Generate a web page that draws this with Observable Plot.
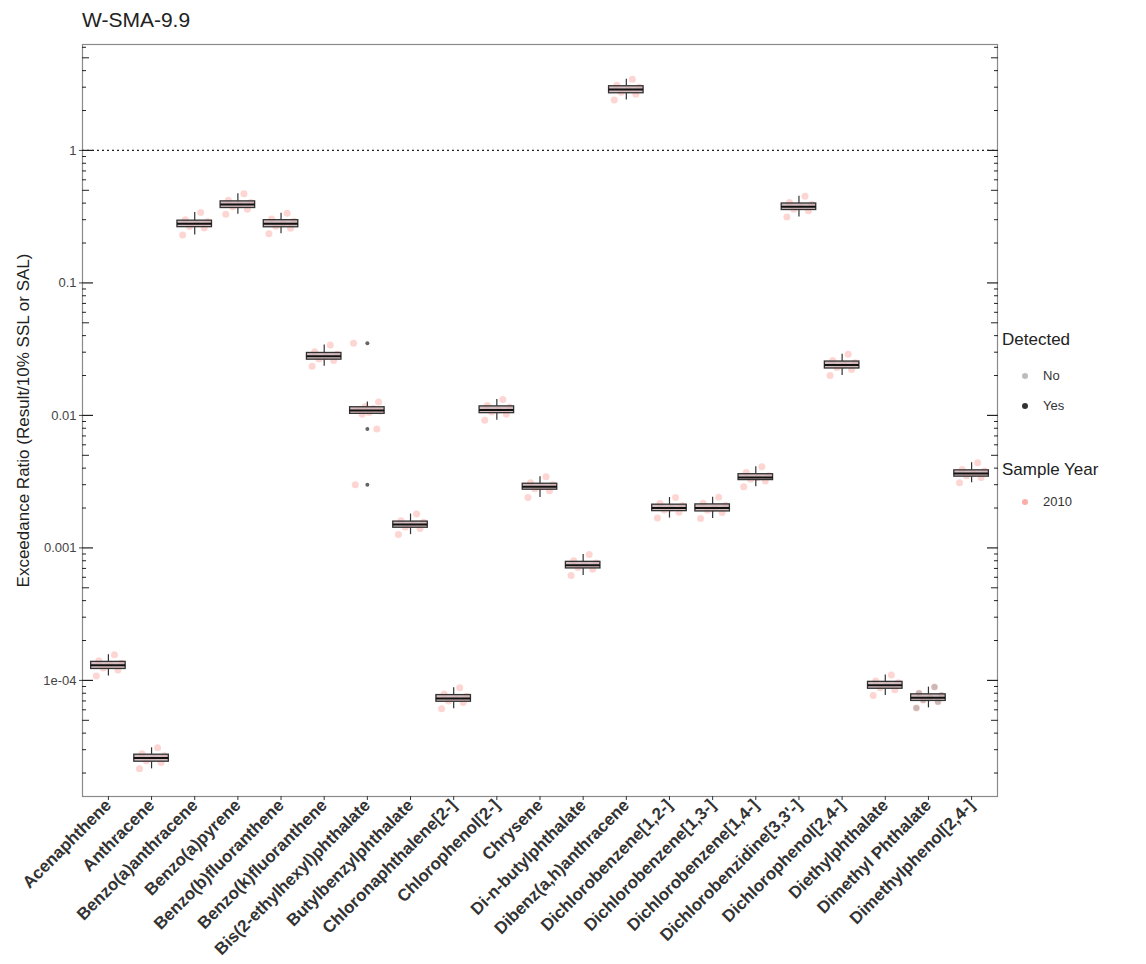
<!DOCTYPE html>
<html><head><meta charset="utf-8">
<script src="https://cdn.jsdelivr.net/npm/d3@7"></script>
<script src="https://cdn.jsdelivr.net/npm/@observablehq/plot@0.6"></script>
<style>
body{margin:0;background:#fff;font-family:"Liberation Sans",Arial,sans-serif;}
#wrap{position:relative;width:1146px;height:964px;overflow:hidden;}
#title{position:absolute;left:82px;top:8px;font-size:21px;color:#222;white-space:nowrap;}
.lt{position:absolute;font-size:17px;color:#222;white-space:nowrap;}
.li{position:absolute;font-size:13px;color:#333;white-space:nowrap;}
.ld{position:absolute;width:6px;height:6px;border-radius:50%;}
#chart{position:absolute;left:0;top:0;}
</style></head><body>
<div id="wrap"><div id="chart"></div><div id="title"></div><div id="legend"></div></div>
<script>
const title = "W-SMA-9.9";
const yLabel = "Exceedance Ratio (Result/10% SSL or SAL)";
const chemicals = ["Acenaphthene","Anthracene","Benzo(a)anthracene","Benzo(a)pyrene","Benzo(b)fluoranthene","Benzo(k)fluoranthene","Bis(2-ethylhexyl)phthalate","Butylbenzylphthalate","Chloronaphthalene[2-]","Chlorophenol[2-]","Chrysene","Di-n-butylphthalate","Dibenz(a,h)anthracene","Dichlorobenzene[1,2-]","Dichlorobenzene[1,3-]","Dichlorobenzene[1,4-]","Dichlorobenzidine[3,3'-]","Dichlorophenol[2,4-]","Diethylphthalate","Dimethyl Phthalate","Dimethylphenol[2,4-]"];
// exceedance ratios per chemical (all samples 2010)
const ratios = [
  [1.08e-4,1.2e-4,1.24e-4,1.3e-4,1.35e-4,1.41e-4,1.56e-4],
  [2.15e-5,2.4e-5,2.47e-5,2.6e-5,2.7e-5,2.8e-5,3.1e-5],
  [0.23,0.26,0.267,0.28,0.29,0.30,0.34],
  [0.33,0.36,0.375,0.39,0.405,0.42,0.47],
  [0.235,0.258,0.268,0.28,0.292,0.303,0.335],
  [0.0235,0.026,0.0267,0.028,0.029,0.0302,0.034],
  [0.003,0.0079,0.0102,0.0105,0.0108,0.011,0.0113,0.0116,0.0126,0.035],
  [0.00126,0.0014,0.00144,0.0015,0.00156,0.0016,0.0018],
  [6.1e-5,6.8e-5,7.0e-5,7.3e-5,7.6e-5,7.9e-5,8.8e-5],
  [0.0092,0.0102,0.0106,0.011,0.0115,0.0119,0.0132],
  [0.0024,0.0027,0.0028,0.0029,0.003,0.0031,0.00345],
  [6.2e-4,6.9e-4,7.1e-4,7.4e-4,7.7e-4,8.0e-4,8.9e-4],
  [2.4,2.65,2.75,2.88,3.0,3.1,3.45],
  [0.00168,0.00186,0.00193,0.002,0.00208,0.00216,0.0024],
  [0.00167,0.00185,0.00192,0.002,0.00209,0.00217,0.00241],
  [0.0029,0.0032,0.0033,0.0034,0.0035,0.0037,0.0041],
  [0.315,0.35,0.36,0.375,0.39,0.405,0.45],
  [0.02,0.0222,0.023,0.024,0.025,0.026,0.029],
  [7.7e-5,8.5e-5,8.8e-5,9.2e-5,9.6e-5,9.9e-5,1.1e-4],
  [6.2e-5,6.9e-5,7.1e-5,7.4e-5,7.7e-5,8.0e-5,8.9e-5],
  [0.0031,0.0034,0.0035,0.00365,0.0038,0.0039,0.0044]
];
const detected = ["Yes","Yes","Yes","Yes","Yes","Yes","Yes","Yes","Yes","Yes","Yes","Yes","Yes","Yes","Yes","Yes","Yes","Yes","Yes","No","Yes"];
const jitter = [-0.28,0.22,-0.12,0.04,0.3,-0.22,0.14,-0.05,0.26,-0.32];
const sampleYear = "2010";
const yTicks = [1e-4,1e-3,1e-2,1e-1,1];
const yTickLabels = ["1e-04","0.001","0.01","0.1","1"];
const threshold = 1;
const yDomain = [1.33e-5, 6.3];

const points = [], stats = [], outliers = [];
ratios.forEach((vals, i) => {
  vals.forEach((v, j) => points.push({i, value: v, jx: i + jitter[j % jitter.length], detected: detected[i]}));
  const s = vals.slice().sort(d3.ascending);
  const q1 = d3.quantile(s, 0.25), med = d3.quantile(s, 0.5), q3 = d3.quantile(s, 0.75);
  const iqr = q3 - q1;
  const inside = s.filter(v => v >= q1 - 1.5*iqr && v <= q3 + 1.5*iqr);
  stats.push({i, q1, med, q3, lo: d3.min(inside), hi: d3.max(inside)});
  s.filter(v => v < q1 - 1.5*iqr || v > q3 + 1.5*iqr).forEach(v => outliers.push({i, value: v}));
});

const inDomain = v => v >= yDomain[0] && v <= yDomain[1];
const decadeList = [1e-5,1e-4,1e-3,1e-2,1e-1,1];
const decades = decadeList.filter(inDomain);
const mids = decadeList.map(d => d*5).filter(inDomain);
const shorts = [];
decadeList.forEach(d => [2,3,4,6,7,8,9].forEach(k => { if (inDomain(d*k)) shorts.push(d*k); }));

function logTicks(anchor) {
  return [
    Plot.axisY({anchor, ticks: decades, tickSize: -11, tickFormat: () => "", label: null, stroke: "#222", strokeWidth: 1.2}),
    Plot.axisY({anchor, ticks: mids, tickSize: -7, tickFormat: () => "", label: null, stroke: "#222"}),
    Plot.axisY({anchor, ticks: shorts, tickSize: -4, tickFormat: () => "", label: null, stroke: "#222"})
  ];
}

const chart = Plot.plot({
  width: 1146, height: 964,
  marginLeft: 82, marginRight: 149, marginTop: 44, marginBottom: 168,
  style: {fontFamily: "Liberation Sans, Arial, sans-serif", background: "#fff"},
  x: {type: "linear", domain: [-0.6, 20.6]},
  y: {type: "log", domain: yDomain},
  marks: [
    Plot.dot(points, {x: "jx", y: "value", r: 3.5, fill: "#F8766D", fillOpacity: 0.3}),
    Plot.dot(points.filter(d => d.detected === "No"), {x: "jx", y: "value", r: 3, fill: "#9a9a9a", fillOpacity: 0.5}),
    Plot.ruleY([threshold], {stroke: "#222", strokeWidth: 1.3, strokeDasharray: "2,3"}),
    Plot.ruleX(stats, {x: "i", y1: "lo", y2: "q1", stroke: "#333", strokeWidth: 1.2}),
    Plot.ruleX(stats, {x: "i", y1: "q3", y2: "hi", stroke: "#333", strokeWidth: 1.2}),
    Plot.rect(stats, {x1: d => d.i - 0.4, x2: d => d.i + 0.4, y1: "q1", y2: "q3", fill: "#c9aeb2", fillOpacity: 0.8, stroke: "#333", strokeWidth: 1.3}),
    Plot.ruleY(stats, {x1: d => d.i - 0.4, x2: d => d.i + 0.4, y: "med", stroke: "#111", strokeWidth: 2}),
    Plot.dot(outliers, {x: "i", y: "value", r: 2, fill: "#666"}),
    Plot.frame({stroke: "#8a8a8a", strokeWidth: 1.2}),
    Plot.axisX({ticks: d3.range(chemicals.length), tickFormat: i => chemicals[i], tickRotate: -45, tickSize: 4, tickPadding: 2, fontSize: 17, fontWeight: "bold", color: "#333", label: null}),
    Plot.axisY({ticks: yTicks, tickFormat: d => yTickLabels[yTicks.indexOf(d)], tickSize: 3, tickPadding: 3, fontSize: 13, color: "#444", label: yLabel, labelAnchor: "center", labelArrow: "none", labelOffset: 66}),
    ...logTicks("left"),
    ...logTicks("right")
  ]
});
chart.querySelectorAll("g[aria-label='y-axis label'] text").forEach(t => { t.style.fontSize = "17px"; t.setAttribute("fill", "#222"); });
document.getElementById("chart").appendChild(chart);
document.getElementById("title").textContent = title;

const legend = document.getElementById("legend");
function add(cls, text, left, top, extra) {
  const el = document.createElement("div");
  el.className = cls; el.style.left = left + "px"; el.style.top = top + "px";
  if (text) el.textContent = text;
  if (extra) Object.assign(el.style, extra);
  legend.appendChild(el);
}
add("lt", "Detected", 1002, 330);
add("ld", null, 1022, 373, {background: "#bdbdbd"});
add("li", "No", 1043, 368);
add("ld", null, 1022, 403, {background: "#333"});
add("li", "Yes", 1043, 398);
add("lt", "Sample Year", 1002, 460);
add("ld", null, 1022, 499, {background: "#F8766D", opacity: 0.6});
add("li", sampleYear, 1043, 494);
</script>
</body></html>
